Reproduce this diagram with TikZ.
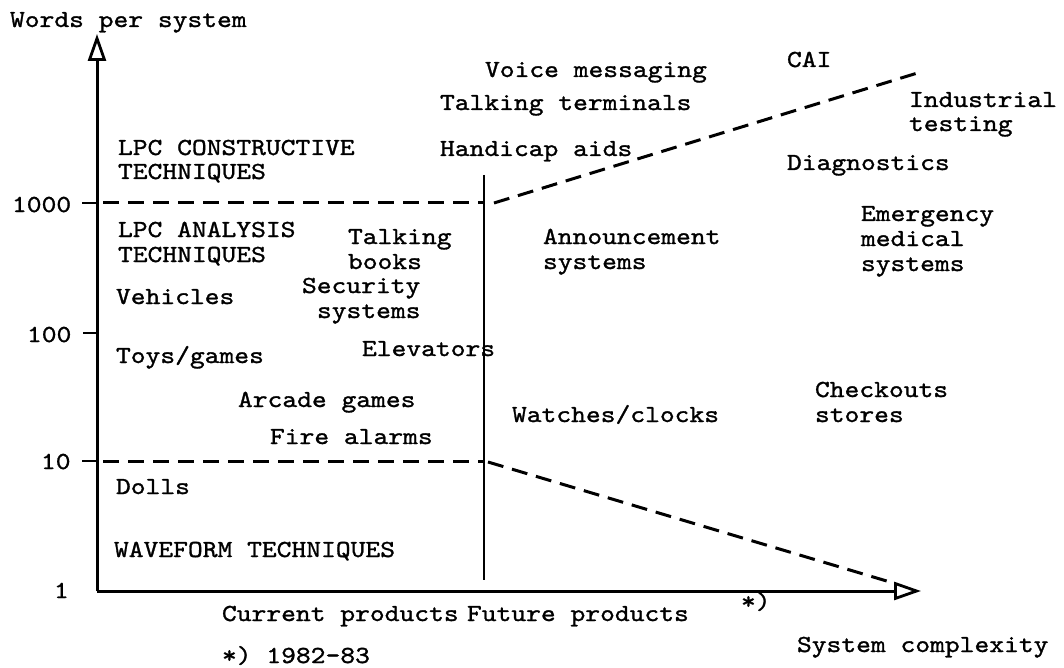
\documentclass[tikz,border=0pt]{standalone}
\usepackage{fontspec}
\newfontfamily\courfont{lmmono10-regular}[Extension=.otf, FakeStretch=1.15, FakeBold=1.2]
\usetikzlibrary{arrows.meta}
\tikzset{
  lbl/.style={anchor=base west, inner sep=0pt, outer sep=0pt, font=\courfont\fontsize{24.5}{25}\selectfont},
  axisline/.style={line width=3pt},
  axisarrow/.style={axisline, -{Triangle[open, length=27pt, width=18pt, line width=2.8pt]}},
  dashline/.style={line width=3pt, dash pattern=on 16pt off 9pt},
  tickline/.style={line width=2.8pt},
  divider/.style={line width=2pt}
}
\begin{document}
\begin{tikzpicture}[x=1pt, y=-1pt]
\useasboundingbox (0,0) rectangle (1064,668);
% key coordinates
\coordinate (O) at (97,591);
\coordinate (Ytop) at (97,34);
\coordinate (Xend) at (921,591);
\coordinate (t1000) at (82,203);
\coordinate (a1000) at (97,203);
\coordinate (d1000) at (484,203);
\coordinate (t100) at (83,333);
\coordinate (a100) at (97,333);
\coordinate (t10) at (82,461);
\coordinate (a10) at (97,461);
\coordinate (d10) at (484,461);
\coordinate (divtop) at (484,175);
\coordinate (divbot) at (484,580);
\coordinate (upS) at (494,203);
\coordinate (upE) at (924,71);
\coordinate (loS) at (488,462);
\coordinate (loE) at (890,582);

% axes
\draw[axisarrow] (O) -- (Ytop);
\draw[axisarrow] (O) -- (Xend);
% ticks
\draw[tickline] (t1000) -- (a1000);
\draw[tickline] (t100) -- (a100);
\draw[tickline] (t10) -- (a10);
% dashed boundaries
\draw[dashline] ([xshift=6pt]a1000) -- (d1000);
\draw[dashline] ([xshift=6pt]a10) -- (d10);
\draw[dashline] (upS) -- (upE);
\draw[dashline] (loS) -- (loE);
% divider
\draw[divider] (divtop) -- (divbot);

% axis labels
\node[lbl] (ylab) at (10,27) {Words per system};
\node[lbl] (xlab) at (797,652) {System complexity};
\node[lbl] (n1000) at (12,212) {1000};
\node[lbl] (n100) at (27,342) {100};
\node[lbl] (n10) at (41,469) {10};
\node[lbl] (n1) at (54,598) {1};
\node[lbl] (cur) at (222,621) {Current products};
\node[lbl] (fut) at (467,621) {Future products};
\node[lbl] (star) at (741,609) {*)};
\node[lbl] (note) at (222,663) {*) 1982-83};

% left region
\node[lbl] (lpcc1) at (118,155) {LPC CONSTRUCTIVE};
\node[lbl] (lpcc2) at (118,179) {TECHNIQUES};
\node[lbl] (lpca1) at (118,237) {LPC ANALYSIS};
\node[lbl] (lpca2) at (118,262) {TECHNIQUES};
\node[lbl] (talk1) at (348,244) {Talking};
\node[lbl] (talk2) at (348,269) {books};
\node[lbl] (veh) at (116,304) {Vehicles};
\node[lbl] (sec1) at (302,293) {Security};
\node[lbl] (sec2) at (317,318) {systems};
\node[lbl] (elev) at (362,356) {Elevators};
\node[lbl] (toys) at (116,363) {Toys/games};
\node[lbl] (arc) at (238,407) {Arcade games};
\node[lbl] (fire) at (270,444) {Fire alarms};
\node[lbl] (dolls) at (116,494) {Dolls};
\node[lbl] (wave) at (114,557) {WAVEFORM TECHNIQUES};

% right region
\node[lbl] (voice) at (485,77) {Voice messaging};
\node[lbl] (cai) at (787,67) {CAI};
\node[lbl] (tterm) at (440,110) {Talking terminals};
\node[lbl] (ind1) at (909,107) {Industrial};
\node[lbl] (ind2) at (909,131) {testing};
\node[lbl] (hand) at (440,156) {Handicap aids};
\node[lbl] (diag) at (787,170) {Diagnostics};
\node[lbl] (em1) at (861,221) {Emergency};
\node[lbl] (em2) at (861,246) {medical};
\node[lbl] (em3) at (861,271) {systems};
\node[lbl] (ann1) at (543,244) {Announcement};
\node[lbl] (ann2) at (543,269) {systems};
\node[lbl] (chk1) at (815,397) {Checkouts};
\node[lbl] (chk2) at (815,422) {stores};
\node[lbl] (watch) at (512,422) {Watches/clocks};
\end{tikzpicture}
\end{document}
